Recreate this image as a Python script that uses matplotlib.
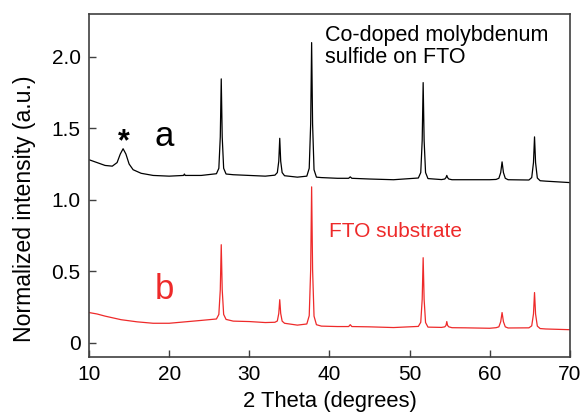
import matplotlib
matplotlib.use('Agg')
import matplotlib.pyplot as plt

plt.rcParams['font.family'] = ['Liberation Sans', 'DejaVu Sans']

# curve a : Co-doped MoS2 on FTO
xa = [10, 11, 12, 12.9, 13.5, 13.9, 14.25, 14.6, 15.0, 15.5, 16.5, 18, 20, 21.8, 21.9, 22.0, 24,
      25.9, 26.2, 26.38, 26.5, 26.62, 26.8, 27.1,
      28, 30, 32,
      33.2, 33.5, 33.68, 33.8, 33.92, 34.1, 34.4,
      36,
      37.18, 37.48, 37.66, 37.78, 37.9, 38.08, 38.38,
      39, 41, 42.4, 42.6, 42.8, 45, 48,
      51.1, 51.4, 51.58, 51.7, 51.82, 52.0, 52.3,
      54.0, 54.4, 54.55, 54.65, 54.75, 54.9, 55.3,
      57, 60,
      60.8, 61.15, 61.38, 61.55, 61.72, 61.95, 62.3,
      64.9, 65.25, 65.47, 65.6, 65.73, 65.95, 66.3,
      67, 70]
ya = [1.28, 1.26, 1.24, 1.235, 1.26, 1.32, 1.357, 1.32, 1.25, 1.21, 1.185, 1.17, 1.165, 1.17, 1.18, 1.17, 1.17,
      1.182, 1.22, 1.44, 1.846, 1.44, 1.22, 1.18,
      1.175, 1.17, 1.165,
      1.172, 1.19, 1.27, 1.43, 1.27, 1.19, 1.168,
      1.158,
      1.165, 1.22, 1.53, 2.10, 1.53, 1.21, 1.158,
      1.155, 1.15, 1.15, 1.16, 1.15, 1.145, 1.14,
      1.152, 1.19, 1.415, 1.82, 1.415, 1.19, 1.148,
      1.141, 1.145, 1.155, 1.17, 1.155, 1.145, 1.14,
      1.14, 1.14,
      1.142, 1.15, 1.19, 1.265, 1.19, 1.15, 1.14,
      1.138, 1.155, 1.26, 1.44, 1.26, 1.152, 1.133,
      1.13, 1.12]

# curve b : FTO substrate
xb = [10, 11, 12, 14, 16, 18, 20, 22, 24,
      25.9, 26.2, 26.38, 26.5, 26.62, 26.8, 27.1,
      28, 30, 32,
      33.2, 33.5, 33.68, 33.8, 33.92, 34.1, 34.4,
      36,
      37.18, 37.48, 37.66, 37.78, 37.9, 38.08, 38.38,
      39, 41, 42.4, 42.6, 42.8, 45, 48,
      51.1, 51.4, 51.58, 51.7, 51.82, 52.0, 52.3,
      54.0, 54.4, 54.55, 54.65, 54.75, 54.9, 55.3,
      57, 60,
      60.8, 61.15, 61.38, 61.55, 61.72, 61.95, 62.3,
      64.9, 65.25, 65.47, 65.6, 65.73, 65.95, 66.3,
      67, 70]
yb = [0.21, 0.2, 0.185, 0.16, 0.145, 0.135, 0.135, 0.145, 0.155,
      0.165, 0.197, 0.37, 0.685, 0.37, 0.197, 0.162,
      0.15, 0.147, 0.14,
      0.142, 0.151, 0.204, 0.30, 0.204, 0.15, 0.135,
      0.122,
      0.13, 0.188, 0.51, 1.09, 0.51, 0.185, 0.125,
      0.115, 0.112, 0.112, 0.125, 0.112, 0.11, 0.105,
      0.113, 0.142, 0.302, 0.594, 0.302, 0.14, 0.108,
      0.106, 0.11, 0.12, 0.147, 0.12, 0.11, 0.104,
      0.103, 0.1,
      0.104, 0.11, 0.146, 0.21, 0.146, 0.11, 0.102,
      0.103, 0.117, 0.2, 0.35, 0.2, 0.115, 0.098,
      0.095, 0.09]

red = '#ee2a2a'

fig = plt.figure(figsize=(5.82, 4.13), dpi=100)
ax = fig.add_axes([0.153, 0.136, 0.826, 0.830])

ax.plot(xa, ya, color='black', lw=0.9)
ax.plot(xb, yb, color=red, lw=0.9)

ax.text(14.3, 1.40, '*', fontsize=22, fontweight='bold', ha='center', va='center')
ax.text(19.4, 1.325, 'a', fontsize=25, ha='center', va='bottom')
ax.text(19.4, 0.255, 'b', fontsize=25, ha='center', va='bottom', color=red)
ax.text(39.5, 2.225, 'Co-doped molybdenum\nsulfide on FTO', fontsize=15.5, va='top',
        linespacing=1.1)
ax.text(40.0, 0.74, 'FTO substrate', fontsize=15, color=red)

ax.set_xlim(10, 70)
ax.set_ylim(-0.1, 2.3)
ax.set_xticks([10, 20, 30, 40, 50, 60, 70])
ax.set_yticks([0, 0.5, 1.0, 1.5, 2.0])
ax.set_yticklabels(['0', '0.5', '1.0', '1.5', '2.0'])
ax.tick_params(direction='in', length=5, labelsize=15, width=1, color='#404040', pad=6)
for s in ax.spines.values():
    s.set_color('#404040')
    s.set_linewidth(1.2)

fig.text(330 / 582, 1 - 401 / 413, '2 Theta (degrees)', fontsize=15.8, ha='center', va='center')
fig.text(25 / 582, 1 - 209 / 413, 'Normalized intensity (a.u.)', fontsize=16.6,
         rotation=90, ha='center', va='center')

fig.savefig('out.png', dpi=100)
